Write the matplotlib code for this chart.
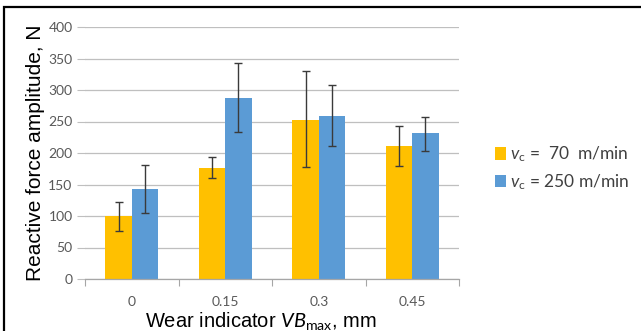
import matplotlib
matplotlib.use("Agg")
import matplotlib.pyplot as plt
import matplotlib.patches as mpatches
import numpy as np

# data
categories = ["0", "0.15", "0.3", "0.45"]
force_70 = [100, 176, 252, 211]
err_70_hi = [123, 193, 330, 243]
err_70_lo = [76, 160, 177, 180]
force_250 = [143, 287, 258, 231]
err_250_hi = [181, 343, 308, 257]
err_250_lo = [105, 233, 211, 203]
yticks = [0, 50, 100, 150, 200, 250, 300, 350, 400]

plt.rcParams['mathtext.fontset'] = 'custom'
plt.rcParams['mathtext.rm'] = 'Lato'
plt.rcParams['mathtext.it'] = 'Lato:italic'

fig = plt.figure(figsize=(6.41, 3.31), dpi=100)
ax = fig.add_axes([85/641, 1-279/331, 374/641, 252/331])

x = np.arange(len(categories))
w = 0.283
yel = '#FFC000'
blu = '#5B9BD5'

f70 = np.array(force_70)
f250 = np.array(force_250)
yerr70 = [f70 - np.array(err_70_lo), np.array(err_70_hi) - f70]
yerr250 = [f250 - np.array(err_250_lo), np.array(err_250_hi) - f250]

ekw = dict(ecolor='#3a3a3a', elinewidth=1.0, capsize=3, capthick=1.0)
ax.bar(x - w/2, f70, w, color=yel, yerr=yerr70, error_kw=ekw, zorder=2,
       label=r'$\mathit{v}_\mathrm{c}$ =  70  m/min')
ax.bar(x + w/2, f250, w, color=blu, yerr=yerr250, error_kw=ekw, zorder=2,
       label=r'$\mathit{v}_\mathrm{c}$ = 250 m/min')

ax.set_xlim(-0.5, len(categories) - 0.5)
ax.set_ylim(0, 400)
ax.set_yticks(yticks)
ax.set_yticklabels([str(t) for t in yticks], fontfamily='Lato', fontsize=10, color='#595959')
ax.set_xticks(x)
ax.set_xticklabels(categories, fontfamily='Lato', fontsize=10, color='#595959')
ax.set_xticks(np.arange(-0.5, len(categories)), minor=True)
ax.tick_params(axis='x', which='major', length=0, pad=12)
ax.tick_params(axis='x', which='minor', length=5, color='#A6A6A6', width=0.8)
ax.tick_params(axis='y', length=6, color='#BFBFBF', width=0.8, pad=3)

ax.grid(axis='y', color='#BFBFBF', linewidth=0.9, zorder=0)
ax.set_axisbelow(True)
for s in ['top', 'right', 'left']:
    ax.spines[s].set_visible(False)
ax.spines['bottom'].set_color('#A6A6A6')
ax.spines['bottom'].set_linewidth(0.9)

ax.set_ylabel('Reactive force amplitude, N', fontfamily='Liberation Sans', fontsize=15, labelpad=2)
ax.set_xlabel(r'Wear indicator $\mathit{VB}_\mathrm{max}$, mm', fontfamily='Liberation Sans',
              fontsize=14.5, labelpad=0)
ax.xaxis.set_label_coords(0.47, -0.125)
ax.xaxis.label.set_va('top')

leg = ax.legend(loc='center left', bbox_to_anchor=(1.055, 0.44), frameon=False,
                prop={'family': 'Lato', 'size': 12.5}, handlelength=0.6, handleheight=0.7,
                handletextpad=0.25, labelspacing=0.45)
for t in leg.get_texts():
    t.set_color('#404040')

# frame around the figure
fig.patches.append(mpatches.Rectangle((4/641, -0.1), 1.2, 1.1 - 7/331, transform=fig.transFigure,
                                      fill=False, edgecolor='black', linewidth=1.6))

fig.savefig('out.png', dpi=100)
